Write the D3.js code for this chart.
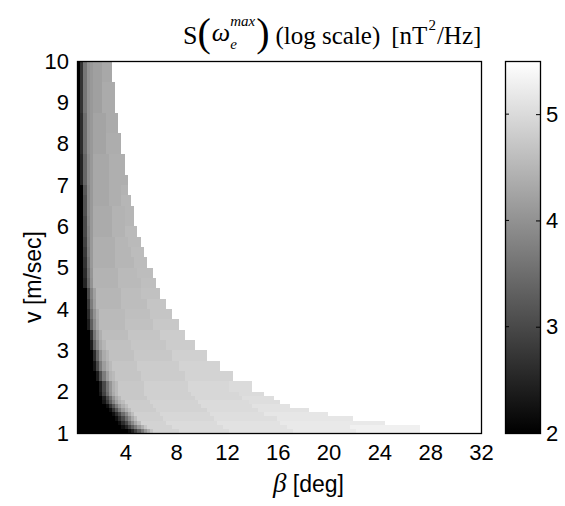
<!DOCTYPE html>
<html>
<head>
<meta charset="utf-8">
<script src="https://cdn.jsdelivr.net/npm/d3@7"></script>
<style>
	body { margin: 0; background: #fff; }
	svg text { font-family: "Liberation Sans", Arial, sans-serif; fill: #000; }
	svg text.serif { font-family: "Liberation Serif", "Times New Roman", serif; }
</style>
</head>
<body>
<svg id="chart" width="565" height="506"></svg>
<script>
// lower edge of each v band [m/s]; the last band ends at vMax
const vBands = [1.0, 1.1, 1.2, 1.3, 1.4, 1.5, 1.6, 1.7, 1.8, 1.9,
	2.0, 2.25, 2.5, 2.75, 3.0, 3.25, 3.5, 3.75, 4.0, 4.25, 4.5, 4.75,
	5.0, 5.25, 5.5, 5.75, 6.0, 6.25, 6.5, 6.75, 7.0, 7.25, 7.5, 7.75,
	8.0, 8.25, 8.5, 8.75, 9.0, 9.25, 9.5, 9.75];
const vMax = 10;
const betaStart = 0.2;

// log10 S per band: runs of [beta end (deg), value]; past the last run there is no data
const rows = [
	[[4.2,2],[4.45,2.2],[4.7,2.5],[4.95,2.9],[5.2,3.3],[5.45,3.7],[5.7,4.1],[5.95,4.4],[6.2,4.7],[8.2,4.9],[12.2,5],[17.2,5.1],[22.2,5.2],[27.2,5.3]],
	[[3.7,2],[3.95,2.2],[4.2,2.5],[4.45,2.9],[4.7,3.3],[4.95,3.7],[5.2,4.1],[5.45,4.4],[5.7,4.7],[7.7,4.9],[11.7,5],[16.7,5.1],[21.7,5.2],[27.2,5.3]],
	[[3.45,2],[3.7,2.2],[3.95,2.6],[4.2,3],[4.45,3.5],[4.7,3.9],[4.95,4.3],[5.2,4.6],[7.2,4.9],[11.2,5],[16.2,5.1],[24.45,5.2]],
	[[3.2,2],[3.45,2.2],[3.7,2.6],[3.95,3],[4.2,3.5],[4.45,3.9],[4.7,4.3],[4.95,4.6],[6.95,4.85],[10.95,4.95],[15.95,5.05],[21.95,5.15]],
	[[2.95,2],[3.2,2.2],[3.45,2.6],[3.7,3],[3.95,3.5],[4.2,3.9],[4.45,4.3],[4.7,4.6],[6.7,4.85],[10.7,4.95],[14.95,5.05],[19.95,5.15]],
	[[2.7,2],[2.95,2.2],[3.2,2.7],[3.45,3.2],[3.7,3.7],[3.95,4.1],[4.2,4.4],[4.45,4.6],[6.45,4.8],[10.45,4.9],[14.45,5],[18.45,5.1]],
	[[2.45,2],[2.7,2.2],[2.95,2.7],[3.2,3.2],[3.45,3.7],[3.7,4.1],[3.95,4.4],[4.2,4.6],[6.2,4.8],[9.95,4.9],[13.95,5],[16.95,5.1]],
	[[2.2,2],[2.45,2.3],[2.7,2.8],[2.95,3.3],[3.2,3.8],[3.45,4.2],[3.7,4.45],[3.95,4.6],[5.95,4.8],[9.7,4.9],[13.7,5],[16.2,5.05]],
	[[2.2,2],[2.45,2.4],[2.7,3],[2.95,3.5],[3.2,4],[3.45,4.35],[3.7,4.55],[5.7,4.75],[9.45,4.85],[13.2,4.95],[15.7,5.05]],
	[[1.95,2],[2.2,2.3],[2.45,2.9],[2.7,3.5],[2.95,4],[3.2,4.35],[3.45,4.55],[5.45,4.75],[9.2,4.85],[12.95,4.95],[14.95,5]],
	[[1.95,2],[2.2,2.4],[2.45,3],[2.7,3.6],[2.95,4.05],[3.2,4.4],[3.45,4.55],[5.45,4.75],[8.95,4.85],[12.2,4.95],[13.95,5]],
	[[1.7,2],[1.95,2.4],[2.2,3.1],[2.45,3.7],[2.7,4.15],[2.95,4.45],[3.2,4.55],[5.2,4.7],[8.7,4.8],[12.45,4.9]],
	[[1.45,2],[1.7,2.3],[1.95,3],[2.2,3.7],[2.45,4.15],[2.7,4.4],[2.95,4.55],[4.95,4.7],[8.2,4.8],[11.45,4.9]],
	[[1.45,2],[1.7,2.6],[1.95,3.4],[2.2,4],[2.45,4.35],[2.7,4.5],[4.7,4.65],[7.7,4.75],[10.45,4.85]],
	[[1.2,2],[1.45,2.4],[1.7,3.3],[1.95,3.9],[2.2,4.3],[2.45,4.5],[4.45,4.65],[7.2,4.72],[9.45,4.8]],
	[[1.2,2],[1.45,2.7],[1.7,3.6],[1.95,4.1],[2.2,4.4],[4.2,4.6],[6.7,4.7],[8.7,4.8]],
	[[0.95,2],[1.2,2.4],[1.45,3.3],[1.7,3.9],[1.95,4.3],[3.95,4.55],[6.2,4.65],[8.2,4.75]],
	[[0.95,2],[1.2,2.6],[1.45,3.5],[1.7,4],[1.95,4.35],[3.95,4.55],[5.95,4.62],[7.7,4.7]],
	[[0.95,2],[1.2,2.8],[1.45,3.7],[1.7,4.15],[3.7,4.5],[5.7,4.6],[7.2,4.7]],
	[[0.95,2],[1.2,3],[1.45,3.8],[1.7,4.2],[3.7,4.5],[5.2,4.6],[6.7,4.65]],
	[[0.7,2],[0.95,2.5],[1.2,3.4],[1.45,4],[3.45,4.45],[5.2,4.55],[6.45,4.62]],
	[[0.7,2],[0.95,2.6],[1.2,3.5],[1.45,4.05],[3.45,4.45],[4.95,4.55],[6.2,4.6]],
	[[0.7,2],[0.95,2.7],[1.2,3.6],[1.45,4.1],[3.2,4.4],[4.7,4.5],[5.7,4.58]],
	[[0.7,2],[0.95,2.8],[1.2,3.7],[1.45,4.1],[3.2,4.4],[4.45,4.5],[5.45,4.58]],
	[[0.7,2],[0.95,2.9],[1.2,3.75],[1.45,4.1],[3.2,4.4],[4.2,4.5],[5.2,4.55]],
	[[0.7,2],[0.95,3],[1.2,3.8],[1.45,4.1],[2.95,4.35],[3.95,4.45],[4.95,4.55]],
	[[0.7,2],[0.95,3],[1.2,3.85],[1.45,4.1],[2.95,4.35],[3.95,4.45],[4.7,4.5]],
	[[0.7,2],[0.95,3.1],[1.2,3.9],[1.45,4.1],[2.95,4.35],[3.95,4.45],[4.7,4.5]],
	[[0.7,2],[0.95,3.1],[1.2,3.9],[1.45,4.1],[2.7,4.3],[3.7,4.4],[4.45,4.5]],
	[[0.7,2],[0.95,3.2],[1.2,3.9],[1.45,4.1],[2.7,4.3],[3.7,4.4],[4.2,4.45]],
	[[0.45,2],[0.7,2.5],[0.95,3.4],[1.2,3.95],[1.45,4.1],[2.7,4.3],[4.2,4.4]],
	[[0.45,2],[0.7,2.5],[0.95,3.4],[1.2,3.95],[1.45,4.1],[2.7,4.3],[3.95,4.4]],
	[[0.45,2],[0.7,2.5],[0.95,3.4],[1.2,3.95],[1.45,4.1],[2.7,4.3],[3.95,4.4]],
	[[0.45,2],[0.7,2.6],[0.95,3.5],[1.2,4],[1.45,4.1],[2.45,4.25],[3.7,4.38]],
	[[0.45,2],[0.7,2.6],[0.95,3.5],[1.2,4],[1.45,4.1],[2.45,4.25],[3.7,4.38]],
	[[0.45,2],[0.7,2.6],[0.95,3.5],[1.2,4],[1.45,4.1],[2.45,4.25],[3.45,4.35]],
	[[0.45,2],[0.7,2.6],[0.95,3.5],[1.2,4],[1.45,4.1],[2.45,4.25],[3.45,4.35]],
	[[0.45,2],[0.7,2.7],[0.95,3.6],[1.2,4],[1.45,4.1],[2.2,4.2],[3.2,4.35]],
	[[0.45,2],[0.7,2.7],[0.95,3.6],[1.2,4],[1.45,4.1],[2.2,4.2],[3.2,4.35]],
	[[0.45,2],[0.7,2.7],[0.95,3.6],[1.2,4],[1.45,4.1],[2.2,4.2],[3.2,4.35]],
	[[0.45,2],[0.7,2.7],[0.95,3.6],[1.2,4],[1.45,4.1],[2.2,4.2],[2.95,4.3]],
	[[0.45,2],[0.7,2.7],[0.95,3.6],[1.2,4],[1.45,4.1],[2.2,4.2],[2.95,4.3]]
];

const xTicks = [4, 8, 12, 16, 20, 24, 28, 32];
const yTicks = [1, 2, 3, 4, 5, 6, 7, 8, 9, 10];
const cbTicks = [2, 3, 4, 5];
const cbDomain = [2, 5.5];

const plot = { left: 77, right: 481, top: 61, bottom: 433 };
const cb = { left: 505, right: 540 };

const svg = d3.select('#chart');

const x = d3.scaleLinear().domain([betaStart, 32]).range([plot.left, plot.right]);
const y = d3.scaleLinear().domain([1, vMax]).range([plot.bottom, plot.top]);
const color = d3.scaleLinear().domain(cbDomain).range(['#000', '#fff']).clamp(true);

// flatten runs into cells
const cells = [];
rows.forEach((runs, i) => {
	const vLo = vBands[i];
	const vHi = i + 1 < vBands.length ? vBands[i + 1] : vMax;
	let b0 = betaStart;
	runs.forEach(([b1, val]) => {
		cells.push({ b0, b1, vLo, vHi, val });
		b0 = b1;
	});
});

svg.append('g')
	.attr('class', 'cells')
	.attr('shape-rendering', 'crispEdges')
	.selectAll('rect')
	.data(cells).enter()
	.append('rect')
		.attr('x', d => Math.round(x(d.b0)))
		.attr('width', d => Math.round(x(d.b1)) - Math.round(x(d.b0)))
		.attr('y', d => Math.round(y(d.vHi)))
		.attr('height', d => Math.round(y(d.vLo)) - Math.round(y(d.vHi)))
		.style('fill', d => color(d.val));

// axes box
svg.append('rect')
	.attr('x', plot.left + 0.5).attr('y', plot.top + 0.5)
	.attr('width', plot.right - plot.left).attr('height', plot.bottom - plot.top)
	.attr('fill', 'none').attr('stroke', '#000').attr('stroke-width', 1.3);

svg.append('g')
	.attr('transform', `translate(0,${plot.bottom})`)
	.call(d3.axisBottom(x).tickValues(xTicks).tickFormat(d3.format('d')).tickSize(0).tickPadding(11))
	.call(g => g.select('.domain').remove())
	.selectAll('text')
		.style('font-size', '22px');

svg.append('g')
	.attr('transform', `translate(${plot.left},0)`)
	.call(d3.axisLeft(y).tickValues(yTicks).tickFormat(d3.format('d')).tickSize(0).tickPadding(8))
	.call(g => g.select('.domain').remove())
	.selectAll('text')
		.style('font-size', '22px');

// colorbar
const cbY = d3.scaleLinear().domain(cbDomain).range([plot.bottom, plot.top]);
const grad = svg.append('defs').append('linearGradient')
	.attr('id', 'cbgrad')
	.attr('x1', 0).attr('y1', 1).attr('x2', 0).attr('y2', 0);
grad.selectAll('stop')
	.data(cbDomain).enter()
	.append('stop')
		.attr('offset', (d, i) => i)
		.attr('stop-color', d => color(d));

svg.append('rect')
	.attr('x', cb.left).attr('y', plot.top)
	.attr('width', cb.right - cb.left).attr('height', plot.bottom - plot.top)
	.attr('fill', 'url(#cbgrad)');

const cbAxis = svg.append('g')
	.attr('transform', `translate(${cb.right},0)`)
	.call(d3.axisRight(cbY).tickValues(cbTicks).tickFormat(d3.format('d')).tickSize(-4).tickPadding(5));
cbAxis.select('.domain').remove();
cbAxis.selectAll('line').attr('stroke', '#000');
cbAxis.selectAll('text').attr('x', 6).style('font-size', '22px');

svg.append('g')
	.selectAll('line')
	.data(cbTicks).enter()
	.append('line')
		.attr('x1', cb.left).attr('x2', cb.left + 4)
		.attr('y1', d => cbY(d)).attr('y2', d => cbY(d))
		.attr('stroke', '#000');

svg.append('rect')
	.attr('x', cb.left + 0.5).attr('y', plot.top + 0.5)
	.attr('width', cb.right - cb.left).attr('height', plot.bottom - plot.top)
	.attr('fill', 'none').attr('stroke', '#000').attr('stroke-width', 1.3);

// axis labels
svg.append('text')
	.attr('transform', 'translate(41,277) rotate(-90)')
	.attr('text-anchor', 'middle')
	.style('font-size', '23px')
	.text('v [m/sec]');

const xl = svg.append('text')
	.attr('x', 273).attr('y', 492)
	.style('font-size', '23px');
xl.append('tspan')
	.style('font-family', '"Liberation Serif", serif')
	.style('font-style', 'italic').style('font-size', '27px').text('β');
xl.append('tspan').text(' [deg]');

// title: pieces laid out left to right, measured as they go
const title = svg.append('g').attr('class', 'title');
let tx = 183;
const piece = (txt, size, italic, base) => {
	const t = title.append('text')
		.attr('class', 'serif').attr('x', tx).attr('y', base)
		.style('font-size', size + 'px')
		.style('font-style', italic ? 'italic' : 'normal')
		.text(txt);
	return t.node().getComputedTextLength();
};
tx += piece('S', 26, false, 44);
tx += piece('(', 40, false, 46) + 1;
tx += piece('ω', 26, true, 41);
const wSup = piece('max', 15, true, 26);
const wSub = piece('e', 15, true, 49);
tx += Math.max(wSup, wSub) + 1;
tx += piece(')', 40, false, 46) + 6;
tx += piece('(log scale)', 25, false, 44) + 11;
tx += piece('[nT', 25, false, 44) + 1;
tx += piece('2', 15, false, 30) + 1;
piece('/Hz]', 25, false, 44);
</script>
</body>
</html>
